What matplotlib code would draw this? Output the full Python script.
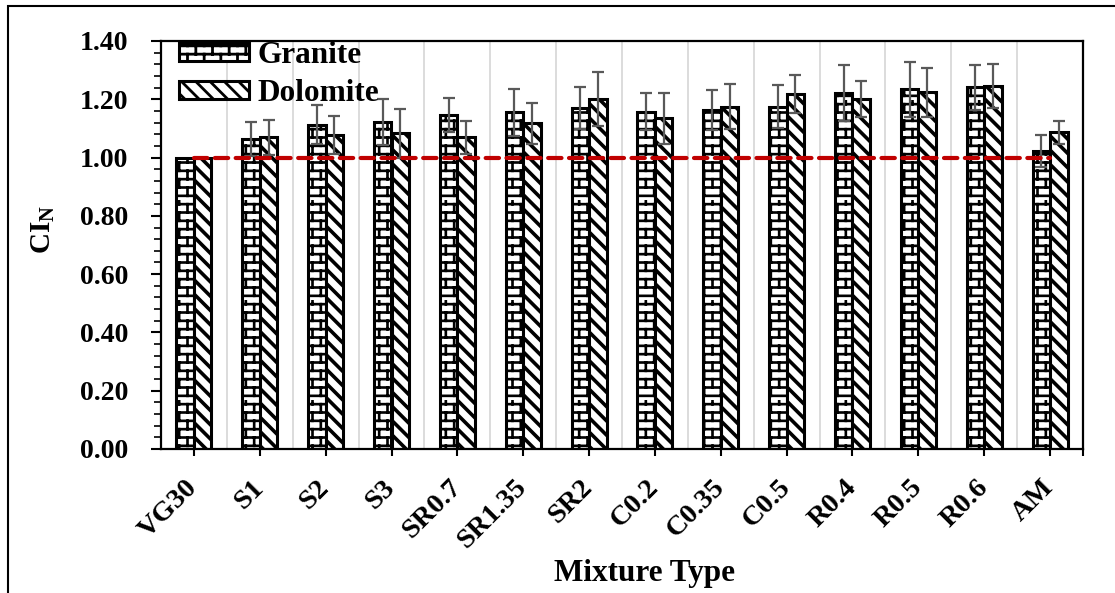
import warnings
import numpy as np
import matplotlib
matplotlib.use("Agg")
import matplotlib.pyplot as plt
import matplotlib.hatch as mhatch
from matplotlib.path import Path
from matplotlib.patches import Rectangle
from matplotlib.ticker import MultipleLocator, FixedLocator, FixedFormatter

warnings.filterwarnings("ignore")

# ---- data -------------------------------------------------------------
mixtures = ["VG30", "S1", "S2", "S3", "SR0.7", "SR1.35", "SR2",
            "C0.2", "C0.35", "C0.5", "R0.4", "R0.5", "R0.6", "AM"]
granite = [1.000, 1.065, 1.113, 1.122, 1.145, 1.156, 1.170,
           1.158, 1.162, 1.175, 1.222, 1.234, 1.241, 1.023]
granite_err = [0.000, 0.058, 0.068, 0.080, 0.058, 0.081, 0.072,
               0.063, 0.069, 0.073, 0.095, 0.094, 0.077, 0.055]
dolomite = [1.000, 1.069, 1.078, 1.084, 1.069, 1.118, 1.202,
            1.135, 1.175, 1.218, 1.202, 1.224, 1.245, 1.087]
dolomite_err = [0.000, 0.061, 0.065, 0.084, 0.057, 0.070, 0.093,
                0.088, 0.077, 0.066, 0.062, 0.084, 0.076, 0.039]
control_level = [1.0] * len(mixtures)
y_ticks = [0.0, 0.2, 0.4, 0.6, 0.8, 1.0, 1.2, 1.4]
y_tick_labels = ["0.00", "0.20", "0.40", "0.60", "0.80", "1.00", "1.20", "1.40"]


# ---- custom fill patterns (brick and wide diagonal) -------------------
class BrickHatch(mhatch.HatchPatternBase):
    rows, cols = 12, 6

    def __init__(self, hatch, density):
        on = hatch.count("b") > 0
        self.num_vertices = (2 * self.rows + 2 * self.rows * self.cols) if on else 0

    def set_vertices_and_codes(self, vertices, codes):
        r, c = self.rows, self.cols
        k = 0
        for i in range(r):
            y = (i + 0.5) / r
            vertices[k] = (0.0, y); codes[k] = Path.MOVETO
            vertices[k + 1] = (1.0, y); codes[k + 1] = Path.LINETO
            k += 2
        for i in range(r):
            y0, y1 = (i + 0.5) / r, (i + 1.5) / r
            for j in range(c):
                x = (j + 0.25 + 0.5 * (i % 2)) / c
                vertices[k] = (x, y0); codes[k] = Path.MOVETO
                vertices[k + 1] = (x, y1); codes[k + 1] = Path.LINETO
                k += 2


class WideDiagHatch(mhatch.HatchPatternBase):
    n = 7

    def __init__(self, hatch, density):
        on = hatch.count("d") > 0
        self.num_vertices = (2 * (2 * self.n + 1)) if on else 0

    def set_vertices_and_codes(self, vertices, codes):
        steps = np.linspace(-1.0, 1.0, 2 * self.n + 1)
        vertices[0::2, 0] = steps
        vertices[0::2, 1] = 1.0
        vertices[1::2, 0] = 1.0 + steps
        vertices[1::2, 1] = 0.0
        codes[0::2] = Path.MOVETO
        codes[1::2] = Path.LINETO


mhatch._hatch_types.append(BrickHatch)
mhatch._hatch_types.append(WideDiagHatch)

# ---- style ------------------------------------------------------------
plt.rcParams["font.family"] = ["Liberation Serif", "DejaVu Serif"]
plt.rcParams["font.weight"] = "bold"
plt.rcParams["mathtext.fontset"] = "custom"
plt.rcParams["mathtext.bf"] = "Liberation Serif:bold"
plt.rcParams["mathtext.rm"] = "Liberation Serif:bold"
plt.rcParams["hatch.linewidth"] = 2.0

W, H = 1115, 593
fig = plt.figure(figsize=(W / 100, H / 100), dpi=100)
ax_l, ax_r, ax_t, ax_b = 161, 1083, 41, 449
ax = fig.add_axes([ax_l / W, 1 - ax_b / H, (ax_r - ax_l) / W, (ax_b - ax_t) / H])

x = np.arange(len(mixtures))
bw = 0.265
off = bw / 2

with plt.rc_context({"hatch.linewidth": 1.9}):
    b1 = ax.bar(x - off, granite, bw, facecolor="white", edgecolor="black",
                linewidth=2.2, hatch="b", label="Granite", zorder=2)
with plt.rc_context({"hatch.linewidth": 2.6}):
    b2 = ax.bar(x + off, dolomite, bw, facecolor="white", edgecolor="black",
                linewidth=2.2, hatch="d", label="Dolomite", zorder=2)

ge = np.array(granite_err)
de = np.array(dolomite_err)
gm = ge > 0
dm = de > 0
err_kw = dict(fmt="none", ecolor="#595959", elinewidth=1.6, capsize=4.5,
              capthick=1.6, zorder=3)
ax.errorbar((x - off)[gm], np.array(granite)[gm], yerr=ge[gm], **err_kw)
ax.errorbar((x + off)[dm], np.array(dolomite)[dm], yerr=de[dm], **err_kw)

ax.plot(x, control_level, color="#C00000", linewidth=3.0,
        linestyle=(0, (3.2, 1.8)), dash_capstyle="round", zorder=4)

# axes limits, ticks, grid
ax.set_xlim(-0.5, len(mixtures) - 0.5)
ax.set_ylim(0, 1.4)
ax.yaxis.set_major_locator(FixedLocator(y_ticks))
ax.yaxis.set_major_formatter(FixedFormatter(y_tick_labels))
ax.yaxis.set_minor_locator(MultipleLocator(0.04))
ax.set_xticks(x)
ax.set_xticklabels(mixtures, rotation=45, ha="right", va="center",
                   rotation_mode="anchor")
ax.xaxis.set_minor_locator(FixedLocator([len(mixtures) - 0.5]))

ax.tick_params(axis="y", which="major", direction="out", length=7.5,
               width=1.5, labelsize=20, pad=16)
ax.tick_params(axis="y", which="minor", direction="out", length=5,
               width=1.2)
ax.tick_params(axis="x", which="both", direction="out", length=5,
               width=1.5, labelsize=20.5, pad=20)

for gx in np.arange(0.5, len(mixtures) - 0.5, 1.0):
    ax.axvline(gx, color="#D9D9D9", linewidth=1.3, zorder=0)

for s in ax.spines.values():
    s.set_linewidth(1.6)
    s.set_color("black")

ax.set_xlabel("Mixture Type", fontsize=22.5, fontweight="bold")
ax.xaxis.set_label_coords((645 - ax_l) / (ax_r - ax_l),
                          (ax_b - 573) / (ax_b - ax_t))
ax.xaxis.label.set_va("center")
ax.set_ylabel(r"$\mathbf{CI}_\mathbf{N}$", fontsize=21)
ax.yaxis.set_label_coords((43 - ax_l) / (ax_r - ax_l),
                          (ax_b - 229) / (ax_b - ax_t))
ax.yaxis.label.set_va("center")

ax.legend(handles=[b1, b2], loc="upper left", bbox_to_anchor=(0.0195, 1.0),
          frameon=False, fontsize=22.5, handlelength=2.25, handleheight=0.5,
          handletextpad=0.25, labelspacing=0.28, borderpad=0, borderaxespad=0)

# outer frame of the figure
fig.add_artist(Rectangle((8 / W, -0.1), 2.0, (H - 6) / H + 0.1,
                         transform=fig.transFigure, fill=False,
                         edgecolor="black", linewidth=1.5))

fig.savefig("out.png", dpi=100)
